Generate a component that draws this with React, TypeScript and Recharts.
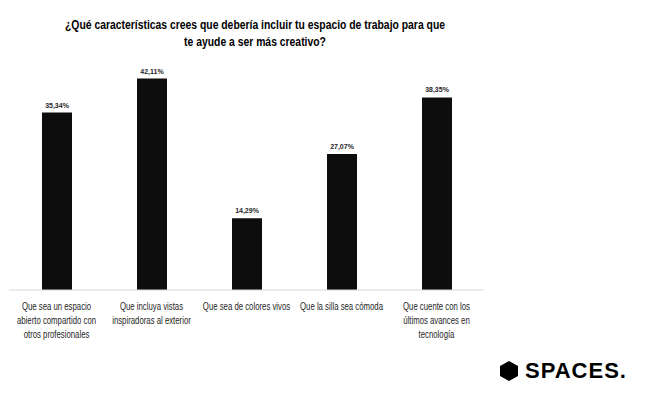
import { BarChart, Bar, XAxis, YAxis, LabelList } from 'recharts';

const categories = [
  'Que sea un espacio\nabierto compartido con\notros profesionales',
  'Que incluya vistas\ninspiradoras al exterior',
  'Que sea de colores vivos',
  'Que la silla sea cómoda',
  'Que cuente con los\núltimos avances en\ntecnología',
];
const percentages = [35.34, 42.11, 14.29, 27.07, 38.35];
const titleLines = [
  '¿Qué características crees que debería incluir tu espacio de trabajo para que',
  'te ayude a ser más creativo?',
];

const data = categories.map((name, i) => ({ name, value: percentages[i] }));

const FONT = '"Liberation Sans", Arial, sans-serif';

// category label, one tspan per line, squeezed to a Calibri-like width
function CategoryTick(props: any) {
  const { x, y, payload } = props;
  const lines = String(payload.value).split('\n');
  return (
    <g transform={`translate(${x},${y}) scale(0.72,1)`}>
      <text x={0} y={0} textAnchor="middle" fontFamily={FONT} fontSize={10.8} fill="#262626">
        {lines.map((line, i) => (
          <tspan key={i} x={0} dy={i === 0 ? 12 : 13.8}>
            {line}
          </tspan>
        ))}
      </text>
    </g>
  );
}

function Logo() {
  return (
    <div style={{ position: 'absolute', left: 499, top: 358, display: 'flex', alignItems: 'center' }}>
      <svg width={20} height={22} viewBox="0 0 20 22">
        <polygon points="10,1 19,6 19,16 10,21 1,16 1,6" fill="#000" />
      </svg>
      <span style={{ fontFamily: FONT, fontWeight: 700, fontSize: 22, marginLeft: 6, color: '#000', letterSpacing: 1 }}>
        SPACES.
      </span>
    </div>
  );
}

export default function App() {
  return (
    <div style={{ position: 'absolute', left: 0, top: 0, width: 650, height: 394, background: '#fff' }}>
      <div
        style={{
          position: 'absolute',
          left: 0,
          top: 17,
          width: 510,
          textAlign: 'center',
          fontFamily: FONT,
          fontWeight: 700,
          fontSize: 12.5,
          lineHeight: '17px',
          color: '#000',
          transform: 'scaleX(0.83)',
        }}
      >
        {titleLines.map((t, i) => (
          <div key={i}>{t}</div>
        ))}
      </div>
      <BarChart
        width={650}
        height={394}
        data={data}
        margin={{ top: 64, right: 166, left: 9, bottom: 0 }}
        barCategoryGap={0}
      >
        <YAxis hide domain={[0, 45]} />
        <XAxis
          dataKey="name"
          interval={0}
          axisLine={{ stroke: '#d9d9d9', strokeWidth: 1 }}
          tickLine={false}
          tick={<CategoryTick />}
          height={104}
        />
        <Bar dataKey="value" fill="#0d0d0d" barSize={30} isAnimationActive={false}>
          <LabelList
            dataKey="value"
            position="top"
            offset={5}
            formatter={(v: any) => `${Number(v).toFixed(2).replace('.', ',')}%`}
            style={{ fontFamily: FONT, fontSize: 7, fontWeight: 700, fill: '#262626' }}
          />
        </Bar>
      </BarChart>
      <Logo />
    </div>
  );
}
